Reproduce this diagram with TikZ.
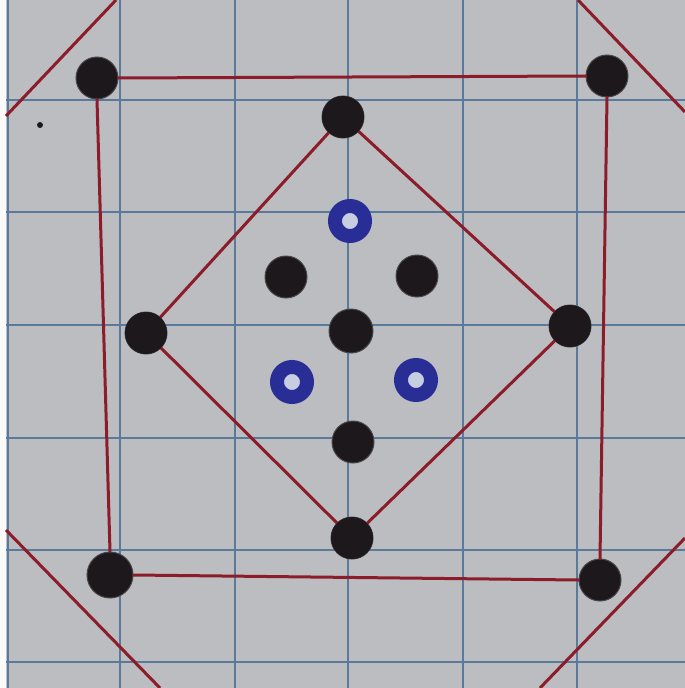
\documentclass[tikz,border=0pt]{standalone}
\begin{document}
\begin{tikzpicture}[x=1pt,y=-1pt,
  gridline/.style={draw=gridblue,line width=2.2pt},
  redline/.style={draw=inkred,line width=3pt,line cap=round},
  blackdot/.style={circle,fill=inkblack,minimum size=42pt,inner sep=0pt,draw=inkblack!80,line width=1pt},
  bluedot/.style={circle,fill=ringcenter,draw=inkblue,line width=14pt,minimum size=30pt,inner sep=0pt}]
\definecolor{paper}{RGB}{188,189,192}
\definecolor{gridblue}{RGB}{90,122,155}
\definecolor{inkred}{RGB}{140,28,42}
\definecolor{inkblack}{RGB}{28,24,28}
\definecolor{inkblue}{RGB}{40,46,150}
\definecolor{ringcenter}{RGB}{200,206,225}
\useasboundingbox (0,0) rectangle (685,688);
\fill[paper] (0,0) rectangle (685,688);
\fill[white!92!paper] (0,0) rectangle (6,688);
% grid
\foreach \gx in {8,120,235,348,463,577} \draw[gridline] (\gx,0) -- (\gx,688);
\foreach \gy in {100,212,325,438,550,662} \draw[gridline] (6,\gy) -- (685,\gy);
% corner free ends
\coordinate (tl1) at (6,116);
\coordinate (tl2) at (116,0);
\coordinate (tr1) at (578,0);
\coordinate (tr2) at (685,112);
\coordinate (bl1) at (6,530);
\coordinate (bl2) at (160,688);
\coordinate (br1) at (685,538);
\coordinate (br2) at (540,688);
\draw[redline,line cap=butt] (tl1) -- (tl2);
\draw[redline,line cap=butt] (tr1) -- (tr2);
\draw[redline,line cap=butt] (bl1) -- (bl2);
\draw[redline,line cap=butt] (br1) -- (br2);
% nodes
\node[blackdot] (otl) at (97,78) {};
\node[blackdot] (otr) at (607,76) {};
\node[blackdot] (obr) at (600,580) {};
\node[blackdot,minimum size=46pt] (obl) at (110,575) {};
\node[blackdot] (dt) at (343,117) {};
\node[blackdot] (dr) at (570,326) {};
\node[blackdot] (db) at (352,538) {};
\node[blackdot] (dl) at (146,333) {};
\node[blackdot,minimum size=44pt] (c) at (351,331) {};
\node[blackdot] (ul) at (286,277) {};
\node[blackdot] (ur) at (417,276) {};
\node[blackdot] (lo) at (353,442) {};
\node[bluedot] (bt) at (350,221) {};
\node[bluedot] (bl) at (292,382) {};
\node[bluedot] (br) at (416,380) {};
\node[circle,fill=inkblack,minimum size=6pt,inner sep=0pt] (speck) at (40,125) {};
% red square and diamond
\draw[redline] (otl.east) -- (otr.west);
\draw[redline] (otr.south) -- (obr.north);
\draw[redline] (obr.west) -- (obl.east);
\draw[redline] (obl.north) -- (otl.south);
\draw[redline] (dt) -- (dr);
\draw[redline] (dr) -- (db);
\draw[redline] (db) -- (dl);
\draw[redline] (dl) -- (dt);
% redraw dots on top
\foreach \n/\p in {dt/{343,117},dr/{570,326},db/{352,538},dl/{146,333}}
  \fill[inkblack] (\p) circle (21pt);
\end{tikzpicture}
\end{document}
